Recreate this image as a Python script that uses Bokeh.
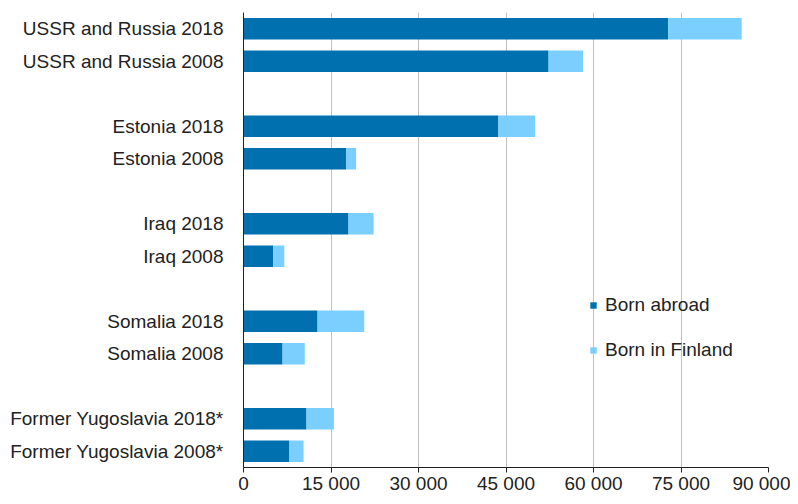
from bokeh.plotting import figure
from bokeh.models import Range1d, Legend, LegendItem, FixedTicker, ColumnDataSource
from bokeh.embed import file_html
from bokeh.resources import INLINE

categories = ["USSR and Russia 2018", "USSR and Russia 2008",
              "Estonia 2018", "Estonia 2008",
              "Iraq 2018", "Iraq 2008",
              "Somalia 2018", "Somalia 2008",
              "Former Yugoslavia 2018*", "Former Yugoslavia 2008*"]
born_abroad = [72800, 52300, 43700, 17600, 18000, 5100, 12700, 6700, 10800, 7800]
born_in_finland = [12600, 5900, 6300, 1700, 4300, 1900, 8000, 3800, 4700, 2500]
x_ticks = [0, 15000, 30000, 45000, 60000, 75000, 90000]
x_tick_labels = ["0", "15 000", "30 000", "45 000", "60 000", "75 000", "90 000"]

# slot positions: pairs of bars separated by an empty slot
pos = [(i // 2) * 3 + (i % 2) for i in range(len(categories))]
total = [a + b for a, b in zip(born_abroad, born_in_finland)]

src = ColumnDataSource(dict(y=pos, abroad=born_abroad, total=total,
                            zero=[0] * len(pos)))

FONT = "Liberation Sans"
p = figure(width=790, height=496, output_backend="svg", toolbar_location=None,
           x_range=Range1d(0, 90000), y_range=Range1d(13.5, -0.5),
           min_border_left=243, min_border_right=22, min_border_top=12,
           min_border_bottom=21)
p.outline_line_color = None

r1 = p.hbar(y="y", left="zero", right="abroad", height=0.66, source=src,
            fill_color="#0071AE", line_color=None)
r2 = p.hbar(y="y", left="abroad", right="total", height=0.66, source=src,
            fill_color="#7ACFFF", line_color=None)

p.ygrid.grid_line_color = None
p.xgrid.grid_line_color = "#C0C0C0"
p.xgrid.grid_line_width = 1
p.xgrid.ticker = FixedTicker(ticks=x_ticks)

xa = p.xaxis[0]
xa.ticker = FixedTicker(ticks=x_ticks)
xa.major_label_overrides = {t: l for t, l in zip(x_ticks, x_tick_labels)}
xa.major_tick_out = 5
xa.major_tick_in = 0
xa.minor_tick_out = 0
xa.minor_tick_in = 0
xa.axis_line_color = "#222222"
xa.major_tick_line_color = "#222222"
xa.major_label_text_font = FONT
xa.major_label_text_font_size = "19px"
xa.major_label_text_color = "#222222"
xa.major_label_standoff = 0

ya = p.yaxis[0]
ya.ticker = FixedTicker(ticks=pos)
ya.major_label_overrides = {t: l for t, l in zip(pos, categories)}
ya.major_tick_out = 0
ya.major_tick_in = 0
ya.minor_tick_out = 0
ya.minor_tick_in = 0
ya.axis_line_color = "#222222"
ya.major_label_text_font = FONT
ya.major_label_text_font_size = "19px"
ya.major_label_text_color = "#222222"
ya.major_label_standoff = 20

legend = Legend(items=[LegendItem(label="Born abroad", renderers=[r1]),
                       LegendItem(label="Born in Finland", renderers=[r2])],
                location=(346, 106))
legend.border_line_color = None
legend.background_fill_alpha = 0
legend.padding = 0
legend.margin = 0
legend.glyph_width = 8
legend.glyph_height = 8
legend.label_standoff = 8
legend.label_height = 18
legend.spacing = 23
legend.label_text_font = FONT
legend.label_text_font_size = "19px"
legend.label_text_color = "#222222"
p.add_layout(legend, "center")

open("out.html", "w").write(file_html(p, INLINE))
